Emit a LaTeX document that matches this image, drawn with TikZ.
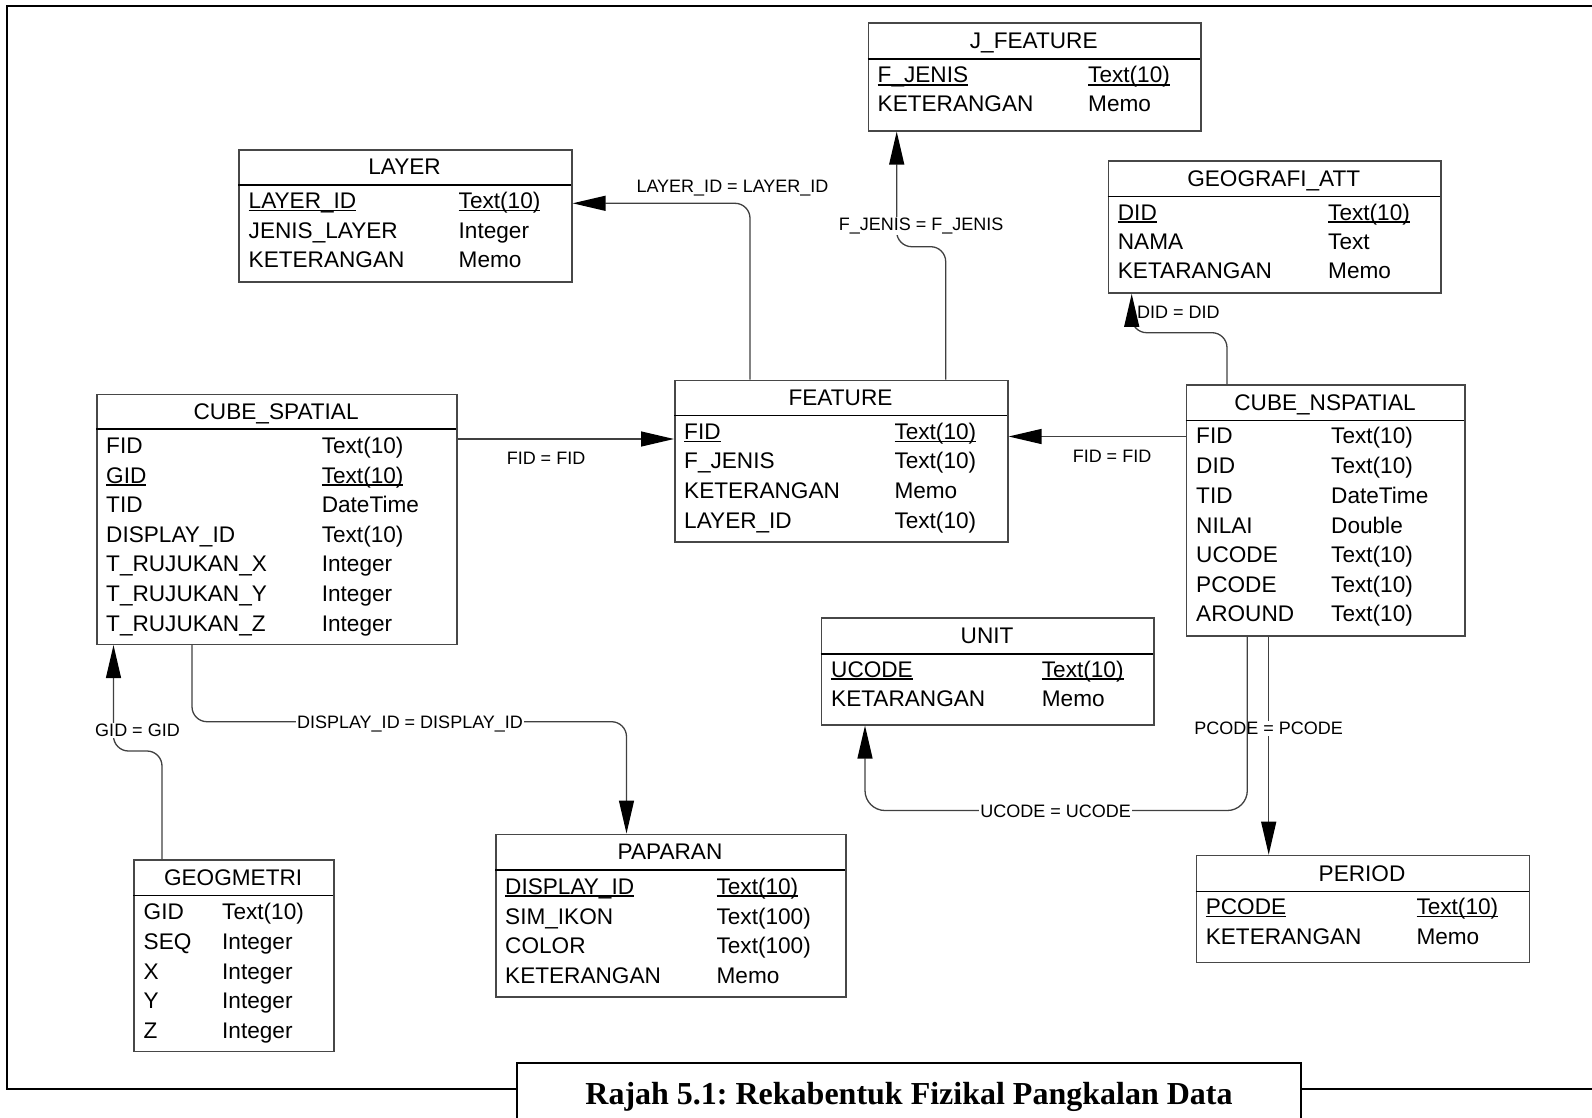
\documentclass[tikz,border=0pt]{standalone}
\usepackage{fontspec}
\setmainfont{Liberation Sans}
\newfontfamily\captionserif{Liberation Serif}
\usetikzlibrary{arrows.meta}
\frenchspacing

\newcommand\tabfont{\fontsize{22.6}{26}\selectfont}
\newcommand\relfont{\fontsize{18}{21}\selectfont}
% key attribute: text with a rule just under its baseline
\newcommand\keyul[1]{\setbox0\hbox{#1}\rlap{\rule[-2.6pt]{\wd0}{1.3pt}}\box0}

\tikzset{
  tblbox/.style={draw=black!72, line width=1.6pt, inner sep=0pt, fill=white},
  hdrrule/.style={draw=black, line width=1.1pt},
  ttl/.style={anchor=base, inner sep=0pt, font=\tabfont},
  fld/.style={anchor=base west, inner sep=0pt, font=\tabfont},
  conn/.style={draw=black!75, line width=1.3pt, -{Triangle[length=33pt,width=15pt,color=black]}},
  rel/.style={font=\relfont, inner sep=1pt, anchor=base},
  relmask/.style={rel, fill=white},
  frameline/.style={line width=2.6pt, draw=black},
}

% #1 name, #2 left, #3 top, #4 right, #5 bottom, #6 y of header rule, #7 title
\newcommand\ertable[7]{%
  \node[tblbox, anchor=north west, minimum width={(#4)-(#2)}, minimum height={(#5)-(#3)}] (#1) at (#2,#3) {};
  \draw[hdrrule] (#2,#6) -- (#4,#6);
  \node[ttl] (#1-title) at ({(#2+#4)/2},{(#3+#6)/2+8}) {#7};
}
% #1 table, #2 index, #3 x of name, #4 x of type, #5 row centre y, #6 name, #7 type
\newcommand\erfield[7]{%
  \node[fld] (#1-n#2) at (#3,{#5+8}) {#6};
  \node[fld] (#1-t#2) at (#4,{#5+8}) {#7};
}

\begin{document}
\begin{tikzpicture}[x=1pt,y=-1pt]
\useasboundingbox (0,0) rectangle (1592,1118);

% outer frame and caption box
\draw[frameline] (1592,6) -- (7,6) -- (7,1089) -- (517,1089);
\draw[frameline] (517,1118) -- (517,1063) -- (1301,1063) -- (1301,1118);
\draw[frameline] (1301,1089) -- (1592,1089);
\node[anchor=base, inner sep=0pt, font=\captionserif\bfseries\fontsize{32}{36}\selectfont] (caption) at (909,1104.6) {Rajah 5.1: Rekabentuk Fizikal Pangkalan Data};

% tables
\ertable{jfeature}{867.5}{22.5}{1200}{130}{59}{J\_FEATURE}
\erfield{jfeature}{1}{877.5}{1088}{75}{\keyul{F\_JENIS}}{\keyul{Text(10)}}
\erfield{jfeature}{2}{877.5}{1088}{104}{KETERANGAN}{Memo}

\ertable{layer}{238}{149}{571}{281}{185}{LAYER}
\erfield{layer}{1}{248.5}{458.5}{200.5}{\keyul{LAYER\_ID}}{\keyul{Text(10)}}
\erfield{layer}{2}{248.5}{458.5}{230}{JENIS\_LAYER}{Integer}
\erfield{layer}{3}{248.5}{458.5}{259.5}{KETERANGAN}{Memo}

\ertable{geoatt}{1107.5}{160}{1440}{292.3}{196.5}{GEOGRAFI\_ATT}
\erfield{geoatt}{1}{1117.7}{1328}{212}{\keyul{DID}}{\keyul{Text(10)}}
\erfield{geoatt}{2}{1117.7}{1328}{241.3}{NAMA}{Text}
\erfield{geoatt}{3}{1117.7}{1328}{270.7}{KETARANGAN}{Memo}

\ertable{cspatial}{96.3}{393.5}{456}{643.5}{429}{CUBE\_SPATIAL}
\erfield{cspatial}{1}{106}{321.6}{445.7}{FID}{Text(10)}
\erfield{cspatial}{2}{106}{321.6}{475}{\keyul{GID}}{\keyul{Text(10)}}
\erfield{cspatial}{3}{106}{321.6}{504.3}{TID}{DateTime}
\erfield{cspatial}{4}{106}{321.6}{534.3}{DISPLAY\_ID}{Text(10)}
\erfield{cspatial}{5}{106}{321.6}{563.3}{T\_RUJUKAN\_X}{Integer}
\erfield{cspatial}{6}{106}{321.6}{593.3}{T\_RUJUKAN\_Y}{Integer}
\erfield{cspatial}{7}{106}{321.6}{623.3}{T\_RUJUKAN\_Z}{Integer}

\ertable{feature}{674}{379.5}{1007}{541.3}{415.3}{FEATURE}
\erfield{feature}{1}{684}{894.3}{431.7}{\keyul{FID}}{\keyul{Text(10)}}
\erfield{feature}{2}{684}{894.3}{460.7}{F\_JENIS}{Text(10)}
\erfield{feature}{3}{684}{894.3}{490}{KETERANGAN}{Memo}
\erfield{feature}{4}{684}{894.3}{520}{LAYER\_ID}{Text(10)}

\ertable{cnspatial}{1185.7}{384}{1464.3}{635}{420.7}{CUBE\_NSPATIAL}
\erfield{cnspatial}{1}{1196}{1331}{435.7}{FID}{Text(10)}
\erfield{cnspatial}{2}{1196}{1331}{465}{DID}{Text(10)}
\erfield{cnspatial}{3}{1196}{1331}{495}{TID}{DateTime}
\erfield{cnspatial}{4}{1196}{1331}{525}{NILAI}{Double}
\erfield{cnspatial}{5}{1196}{1331}{554}{UCODE}{Text(10)}
\erfield{cnspatial}{6}{1196}{1331}{584}{PCODE}{Text(10)}
\erfield{cnspatial}{7}{1196}{1331}{613.3}{AROUND}{Text(10)}

\ertable{unit}{820.7}{617}{1153.4}{724}{654}{UNIT}
\erfield{unit}{1}{831}{1041.7}{669}{\keyul{UCODE}}{\keyul{Text(10)}}
\erfield{unit}{2}{831}{1041.7}{698.3}{KETARANGAN}{Memo}

\ertable{geomet}{133.2}{859}{333}{1050.7}{895.7}{GEOGMETRI}
\erfield{geomet}{1}{143.5}{222}{911.7}{GID}{Text(10)}
\erfield{geomet}{2}{143.5}{222}{941}{SEQ}{Integer}
\erfield{geomet}{3}{143.5}{222}{971}{X}{Integer}
\erfield{geomet}{4}{143.5}{222}{1000.7}{Y}{Integer}
\erfield{geomet}{5}{143.5}{222}{1030}{Z}{Integer}

\ertable{paparan}{495}{833.5}{845}{996}{870}{PAPARAN}
\erfield{paparan}{1}{505}{716.4}{886}{\keyul{DISPLAY\_ID}}{\keyul{Text(10)}}
\erfield{paparan}{2}{505}{716.4}{916}{SIM\_IKON}{Text(100)}
\erfield{paparan}{3}{505}{716.4}{945.7}{COLOR}{Text(100)}
\erfield{paparan}{4}{505}{716.4}{975.7}{KETERANGAN}{Memo}

\ertable{period}{1195.6}{854.7}{1528.5}{961.7}{891.3}{PERIOD}
\erfield{period}{1}{1205.6}{1416.3}{906.7}{\keyul{PCODE}}{\keyul{Text(10)}}
\erfield{period}{2}{1205.6}{1416.3}{936.7}{KETERANGAN}{Memo}

% relationships
\draw[conn, rounded corners=15pt] (750,0 |- feature.north) |- (layer.east |- 0,203.3);
\node[rel] (r-layer) at (732.5,192.5) {LAYER\_ID = LAYER\_ID};

\draw[conn, rounded corners=15pt] (945.7,0 |- feature.north) |- (896.7,246.7) -- (896.7,0 |- jfeature.south);
\node[relmask] (r-jenis) at (921.2,230.5) {F\_JENIS = F\_JENIS};

\draw[conn] (cspatial.east |- 0,439) -- (feature.west |- 0,439);
\node[rel] (r-fid1) at (546,464.5) {FID = FID};

\draw[conn] (cnspatial.west |- 0,436.5) -- (feature.east |- 0,436.5);
\node[rel] (r-fid2) at (1112,462.2) {FID = FID};

\draw[conn, rounded corners=15pt] (1227,0 |- cnspatial.north) |- (1131.7,332.7) -- (1131.7,0 |- geoatt.south);
\node[rel] (r-did) at (1178.3,318.8) {DID = DID};

\draw[conn, rounded corners=15pt] (192,0 |- cspatial.south) |- (626.5,721.7) -- (626.5,0 |- paparan.north);
\node[relmask] (r-display) at (410,728.2) {DISPLAY\_ID = DISPLAY\_ID};

\draw[conn, rounded corners=15pt] (162,0 |- geomet.north) |- (113.5,751) -- (113.5,0 |- cspatial.south);
\node[relmask] (r-gid) at (137.5,736.5) {GID = GID};

\draw[conn] (1268.7,0 |- cnspatial.south) -- (1268.7,0 |- period.north);
\node[relmask] (r-pcode) at (1268.6,734.8) {PCODE = PCODE};

\draw[conn, rounded corners=20pt] (1247.3,0 |- cnspatial.south) |- (865,810.5) -- (865,0 |- unit.south);
\node[relmask] (r-ucode) at (1055.6,817) {UCODE = UCODE};
\end{tikzpicture}
\end{document}
